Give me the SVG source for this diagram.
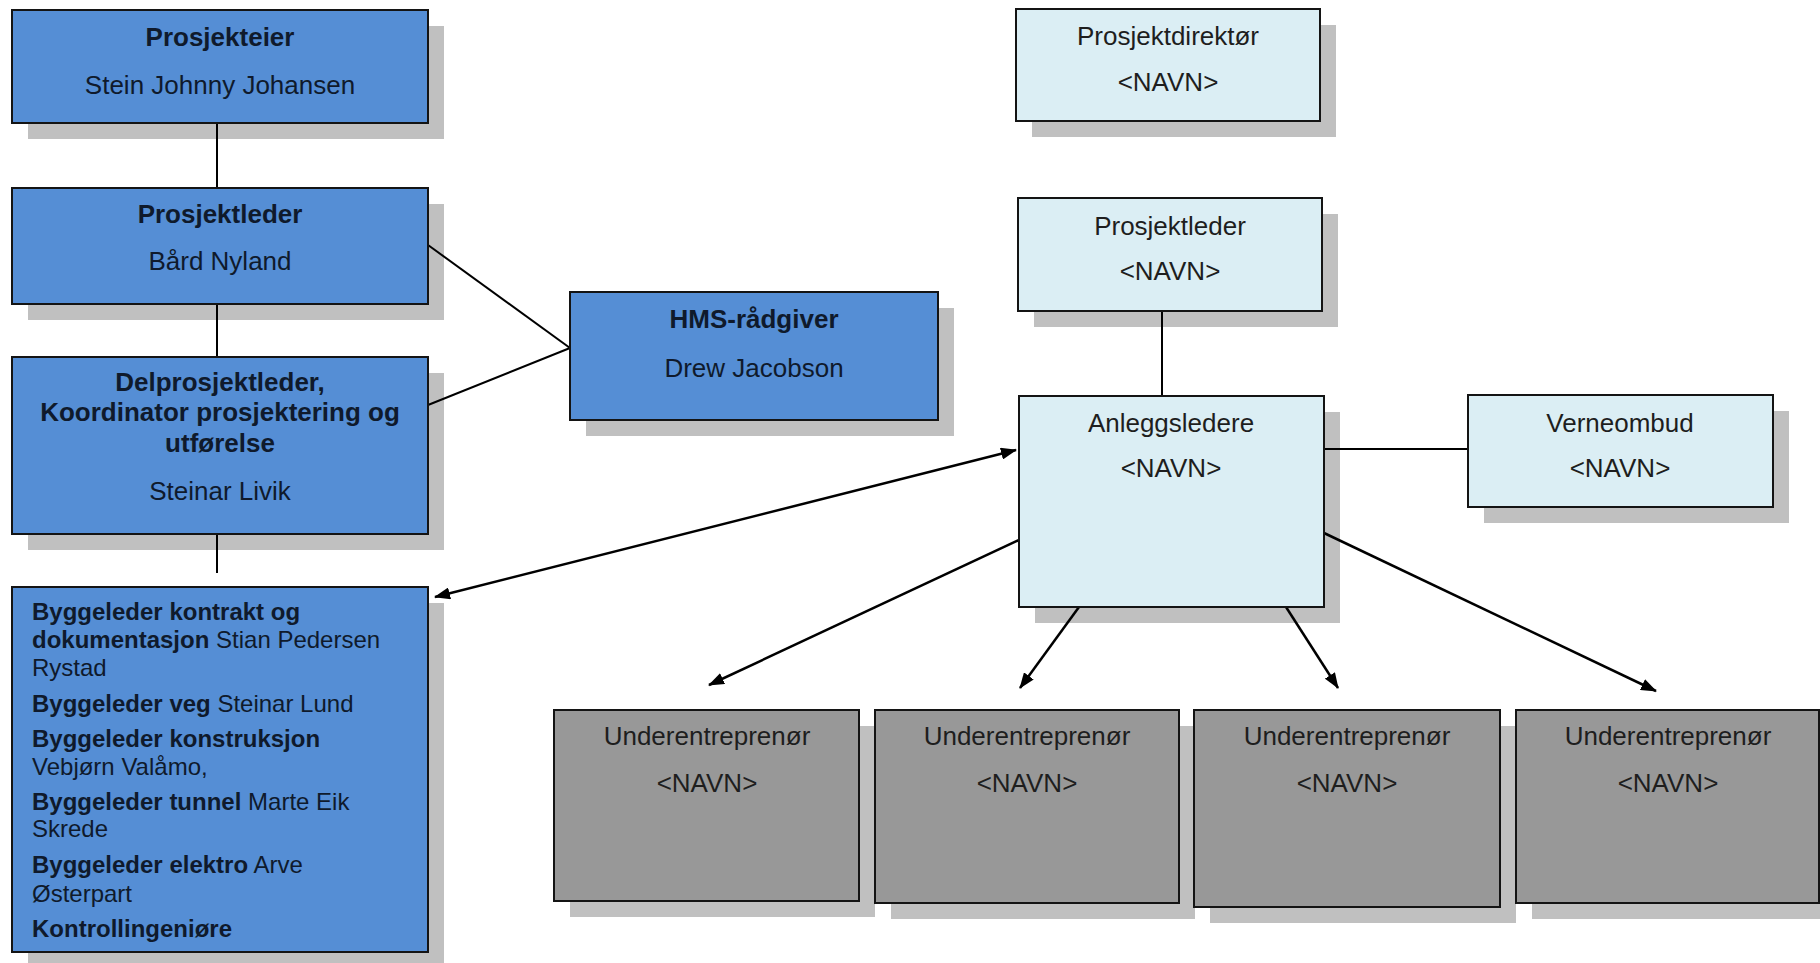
<svg xmlns="http://www.w3.org/2000/svg" width="1820" height="963" viewBox="0 0 1820 963">
<defs>
<marker id="arr" viewBox="0 0 16 12" refX="15" refY="6" markerWidth="16" markerHeight="12" markerUnits="userSpaceOnUse" orient="auto-start-reverse">
<path d="M0,0 L16,6 L0,12 z" fill="#000"/>
</marker>
<style>
.sh{fill:#c0c0c0}
.blue{fill:#558ed5;stroke:#141414;stroke-width:2}
.light{fill:#dbeef4;stroke:#141414;stroke-width:2}
.gray{fill:#989898;stroke:#141414;stroke-width:2}
text{font-family:"Liberation Sans",Arial,sans-serif;font-size:26px}
.tb{fill:#0f1a2c;text-anchor:middle}
.b{font-weight:bold}
.tl{fill:#1e1e1e;text-anchor:middle}
.list{fill:#0f1a2c;font-size:24px}
.ln{stroke:#000;stroke-width:2;fill:none}
.ar{stroke:#000;stroke-width:2.5;fill:none}
</style>
</defs>
<rect width="1820" height="963" fill="#fff"/>

<g id="shadows">
<rect class="sh" x="28" y="26" width="416" height="113"/>
<rect class="sh" x="28" y="204" width="416" height="116"/>
<rect class="sh" x="28" y="373" width="416" height="177"/>
<rect class="sh" x="28" y="603" width="416" height="365"/>
<rect class="sh" x="586" y="308" width="368" height="128"/>
<rect class="sh" x="1032" y="25" width="304" height="112"/>
<rect class="sh" x="1034" y="214" width="304" height="113"/>
<rect class="sh" x="1035" y="412" width="305" height="211"/>
<rect class="sh" x="1484" y="411" width="305" height="112"/>
<rect class="sh" x="570" y="726" width="305" height="191"/>
<rect class="sh" x="891" y="726" width="304" height="193"/>
<rect class="sh" x="1210" y="726" width="306" height="197"/>
<rect class="sh" x="1532" y="726" width="304" height="193"/>
</g>

<g id="connectors">
<line class="ln" x1="217" y1="123" x2="217" y2="188"/>
<line class="ln" x1="217" y1="304" x2="217" y2="357"/>
<line class="ln" x1="217" y1="534" x2="217" y2="573"/>
<line class="ln" x1="428" y1="245" x2="570" y2="348"/>
<line class="ln" x1="428" y1="405" x2="570" y2="348"/>
<line class="ln" x1="1162" y1="311" x2="1162" y2="396"/>
<line class="ln" x1="1323" y1="449" x2="1468" y2="449"/>
<line class="ar" x1="435" y1="597" x2="1016" y2="450" marker-start="url(#arr)" marker-end="url(#arr)"/>
<line class="ar" x1="1019" y1="540" x2="709" y2="685" marker-end="url(#arr)"/>
<line class="ar" x1="1079" y1="607" x2="1020" y2="688" marker-end="url(#arr)"/>
<line class="ar" x1="1286" y1="607" x2="1338" y2="688" marker-end="url(#arr)"/>
<line class="ar" x1="1324" y1="533" x2="1656" y2="691" marker-end="url(#arr)"/>
</g>

<g id="prosjekteier">
<rect class="blue" x="12" y="10" width="416" height="113"/>
<text class="tb b" x="220" y="46">Prosjekteier</text>
<text class="tb" x="220" y="94">Stein Johnny Johansen</text>
</g>

<g id="prosjektleder-left">
<rect class="blue" x="12" y="188" width="416" height="116"/>
<text class="tb b" x="220" y="223">Prosjektleder</text>
<text class="tb" x="220" y="270">Bård Nyland</text>
</g>

<g id="delprosjektleder">
<rect class="blue" x="12" y="357" width="416" height="177"/>
<text class="tb b" x="220" y="391">Delprosjektleder,</text>
<text class="tb b" x="220" y="421">Koordinator prosjektering og</text>
<text class="tb b" x="220" y="452">utførelse</text>
<text class="tb" x="220" y="500">Steinar Livik</text>
</g>

<g id="byggeleder">
<rect class="blue" x="12" y="587" width="416" height="365"/>
<text class="list" x="32" y="620"><tspan class="b">Byggeleder kontrakt og</tspan></text>
<text class="list" x="32" y="648"><tspan class="b">dokumentasjon</tspan> Stian Pedersen</text>
<text class="list" x="32" y="676">Rystad</text>
<text class="list" x="32" y="712"><tspan class="b">Byggeleder veg</tspan> Steinar Lund</text>
<text class="list" x="32" y="747"><tspan class="b">Byggeleder konstruksjon</tspan></text>
<text class="list" x="32" y="775">Vebjørn Valåmo,</text>
<text class="list" x="32" y="810"><tspan class="b">Byggeleder tunnel</tspan> Marte Eik</text>
<text class="list" x="32" y="837">Skrede</text>
<text class="list" x="32" y="873"><tspan class="b">Byggeleder elektro</tspan> Arve</text>
<text class="list" x="32" y="902">Østerpart</text>
<text class="list" x="32" y="937"><tspan class="b">Kontrollingeniøre</tspan></text>
</g>

<g id="hms">
<rect class="blue" x="570" y="292" width="368" height="128"/>
<text class="tb b" x="754" y="328">HMS-rådgiver</text>
<text class="tb" x="754" y="377">Drew Jacobson</text>
</g>

<g id="prosjektdirektor">
<rect class="light" x="1016" y="9" width="304" height="112"/>
<text class="tl" x="1168" y="45">Prosjektdirektør</text>
<text class="tl" x="1168" y="91">&lt;NAVN&gt;</text>
</g>

<g id="prosjektleder-right">
<rect class="light" x="1018" y="198" width="304" height="113"/>
<text class="tl" x="1170" y="235">Prosjektleder</text>
<text class="tl" x="1170" y="280">&lt;NAVN&gt;</text>
</g>

<g id="anleggsledere">
<rect class="light" x="1019" y="396" width="305" height="211"/>
<text class="tl" x="1171" y="432">Anleggsledere</text>
<text class="tl" x="1171" y="477">&lt;NAVN&gt;</text>
</g>

<g id="verneombud">
<rect class="light" x="1468" y="395" width="305" height="112"/>
<text class="tl" x="1620" y="432">Verneombud</text>
<text class="tl" x="1620" y="477">&lt;NAVN&gt;</text>
</g>

<g id="ue1">
<rect class="gray" x="554" y="710" width="305" height="191"/>
<text class="tl" x="707" y="745">Underentreprenør</text>
<text class="tl" x="707" y="792">&lt;NAVN&gt;</text>
</g>

<g id="ue2">
<rect class="gray" x="875" y="710" width="304" height="193"/>
<text class="tl" x="1027" y="745">Underentreprenør</text>
<text class="tl" x="1027" y="792">&lt;NAVN&gt;</text>
</g>

<g id="ue3">
<rect class="gray" x="1194" y="710" width="306" height="197"/>
<text class="tl" x="1347" y="745">Underentreprenør</text>
<text class="tl" x="1347" y="792">&lt;NAVN&gt;</text>
</g>

<g id="ue4">
<rect class="gray" x="1516" y="710" width="303" height="193"/>
<text class="tl" x="1668" y="745">Underentreprenør</text>
<text class="tl" x="1668" y="792">&lt;NAVN&gt;</text>
</g>
</svg>
